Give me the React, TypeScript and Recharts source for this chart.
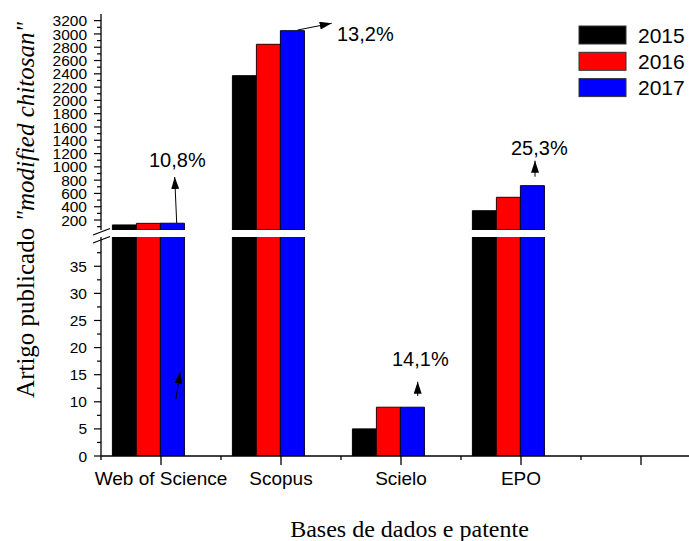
import React from "react";
import { BarChart, Bar, XAxis, YAxis } from "recharts";

const CATEGORIES = ["Web of Science", "Scopus", "Scielo", "EPO", ""];
const Y2015 = [126, 2372, 5, 340, null];
const Y2016 = [150, 2844, 9, 542, null];
const Y2017 = [152, 3049, 9, 717, null];

// upper segment of the broken axis (labels every 200, minor every 100)
const UPPER_DOMAIN = [50, 3300];
const UPPER_TICKS = [
  100, 200, 300, 400, 500, 600, 700, 800, 900, 1000, 1100, 1200, 1300, 1400, 1500, 1600,
  1700, 1800, 1900, 2000, 2100, 2200, 2300, 2400, 2500, 2600, 2700, 2800, 2900, 3000, 3100, 3200,
];
// lower segment (labels every 5, minor every 2.5)
const LOWER_DOMAIN = [0, 40.4];
const LOWER_TICKS = [0, 2.5, 5, 7.5, 10, 12.5, 15, 17.5, 20, 22.5, 25, 27.5, 30, 32.5, 35, 37.5];

const SERIES = [
  { key: "y2015", name: "2015", color: "#000000", edge: "#000000", values: Y2015 },
  { key: "y2016", name: "2016", color: "#ff0000", edge: "#2a0000", values: Y2016 },
  { key: "y2017", name: "2017", color: "#0000ff", edge: "#00002a", values: Y2017 },
];

const ANNOTATIONS = [
  { text: "10,8%", x: 149, y: 167, from: [176.7, 223], to: [174.7, 177] },
  { text: "13,2%", x: 337, y: 41, from: [297.7, 30], to: [331.7, 23.3] },
  { text: "14,1%", x: 392, y: 366, from: [417.7, 396], to: [417.7, 381.7] },
  { text: "25,3%", x: 511, y: 154.5, from: [535, 176.7], to: [535, 160.7] },
  { text: "", x: 0, y: 0, from: [176, 399], to: [180, 371.7] },
];

function rows(minValue: number) {
  return CATEGORIES.map((name, i) => {
    const row: Record<string, any> = { name };
    SERIES.forEach((s) => {
      const v = s.values[i];
      row[s.key] = v != null && v >= minValue ? v : null;
    });
    return row;
  });
}

const lowerData = rows(LOWER_DOMAIN[0]);
const upperData = rows(UPPER_DOMAIN[0]);

const SANS = '"Liberation Sans", Arial, sans-serif';
const SERIF = '"Liberation Serif", "Times New Roman", serif';
const AXIS = { stroke: "#000", strokeWidth: 1.3 };

function halfBand(payload: any) {
  return payload && payload.offset > 0 ? payload.offset : 60;
}

function YTick(props: any) {
  const { x, y, payload, step } = props;
  const v = payload.value;
  const major = v % step === 0;
  return (
    <g>
      <line x1={x - (major ? 7 : 4)} x2={x} y1={y} y2={y} stroke="#000" strokeWidth={1.2} />
      {major && (
        <text x={x - 14} y={y} dy="0.36em" textAnchor="end" fontSize={15.5} fontFamily={SANS} fill="#000">
          {v}
        </text>
      )}
    </g>
  );
}

function TopTick(props: any) {
  const { x, y, payload } = props;
  const h = halfBand(payload);
  return (
    <g>
      <line x1={x} x2={x} y1={y} y2={y + 4} stroke="#000" strokeWidth={1.2} />
      <line x1={x - h} x2={x - h} y1={y} y2={y + 4} stroke="#000" strokeWidth={1.2} />
    </g>
  );
}

function BottomTick(props: any) {
  const { x, y, payload } = props;
  const h = halfBand(payload);
  return (
    <g>
      <line x1={x} x2={x} y1={y} y2={y + 9} stroke="#000" strokeWidth={1.3} />
      <line x1={x - h} x2={x - h} y1={y} y2={y + 4} stroke="#000" strokeWidth={1.3} />
      <text x={x} y={y + 29} textAnchor="middle" fontSize={19} fontFamily={SANS} fill="#000">
        {payload.value}
      </text>
    </g>
  );
}

function bars() {
  return [
    ...SERIES.map((s) => (
      <Bar
        key={s.key}
        dataKey={s.key}
        name={s.name}
        fill={s.color}
        stroke={s.edge}
        strokeWidth={1}
        isAnimationActive={false}
      />
    )),
    // empty slot so the group sits left of the tick, as in the original
    <Bar key="pad" dataKey="pad" fill="none" legendType="none" isAnimationActive={false} />,
  ];
}

export default function App() {
  return (
    <div
      style={{
        position: "fixed",
        left: 0,
        top: 0,
        width: 689,
        height: 541,
        overflow: "hidden",
        background: "#fff",
      }}
    >
      <div style={{ position: "absolute", left: 0, top: 0 }}>
        <BarChart
          width={701}
          height={541}
          data={lowerData}
          margin={{ top: 237, right: 0, bottom: 45, left: 41 }}
          barCategoryGap="9.5%"
          barGap={0}
        >
          <XAxis
            dataKey="name"
            height={40}
            axisLine={AXIS}
            tickLine={false}
            tickSize={0}
            tickMargin={0}
            interval={0}
            tick={<BottomTick />}
          />
          <YAxis
            width={60}
            domain={LOWER_DOMAIN}
            allowDataOverflow
            ticks={LOWER_TICKS}
            interval={0}
            axisLine={AXIS}
            tickLine={false}
            tickSize={0}
            tickMargin={0}
            tick={<YTick step={5} />}
          />
          {bars()}
        </BarChart>
      </div>
      <div style={{ position: "absolute", left: 0, top: 0 }}>
        <BarChart
          width={701}
          height={230}
          data={upperData}
          margin={{ top: 14, right: 0, bottom: 0, left: 41 }}
          barCategoryGap="9.5%"
          barGap={0}
        >
          <XAxis
            dataKey="name"
            orientation="top"
            height={0}
            axisLine={AXIS}
            tickLine={false}
            tickSize={0}
            tickMargin={0}
            interval={0}
            tick={<TopTick />}
          />
          <YAxis
            width={60}
            domain={UPPER_DOMAIN}
            allowDataOverflow
            ticks={UPPER_TICKS}
            interval={0}
            axisLine={AXIS}
            tickLine={false}
            tickSize={0}
            tickMargin={0}
            tick={<YTick step={200} />}
          />
          {bars()}
        </BarChart>
      </div>
      <svg
        width={689}
        height={541}
        style={{ position: "absolute", left: 0, top: 0, pointerEvents: "none" }}
      >
        <defs>
          <marker
            id="ah"
            viewBox="0 0 12 8"
            refX={12}
            refY={4}
            markerWidth={12}
            markerHeight={8}
            markerUnits="userSpaceOnUse"
            orient="auto"
          >
            <path d="M0,0 L12,4 L0,8 z" fill="#000" />
          </marker>
        </defs>
        {/* axis break marks */}
        <line x1={93} y1={235} x2={110} y2={228.5} stroke="#000" strokeWidth={1.3} />
        <line x1={93} y1={243} x2={110} y2={236.5} stroke="#000" strokeWidth={1.3} />

        {ANNOTATIONS.map((a, i) => (
          <g key={i}>
            <line
              x1={a.from[0]}
              y1={a.from[1]}
              x2={a.to[0]}
              y2={a.to[1]}
              stroke="#000"
              strokeWidth={1}
              markerEnd="url(#ah)"
            />
            {a.text && (
              <text x={a.x} y={a.y} fontSize={20} fontFamily={SANS} fill="#000">
                {a.text}
              </text>
            )}
          </g>
        ))}

        {SERIES.map((s, i) => (
          <g key={s.key}>
            <rect x={579} y={26 + i * 26.3} width={47} height={18} fill={s.color} stroke="#333" strokeWidth={1} />
            <text x={638} y={42.7 + i * 26.3} fontSize={21} fontFamily={SANS} fill="#000">
              {s.name}
            </text>
          </g>
        ))}

        <text x={409.5} y={537} textAnchor="middle" fontSize={24} fontFamily={SERIF} fill="#000">
          Bases de dados e patente
        </text>
        <text
          transform="translate(34, 210) rotate(-90)"
          textAnchor="middle"
          fontSize={25}
          fontFamily={SERIF}
          fill="#000"
        >
          Artigo publicado <tspan fontStyle="italic">"modified chitosan"</tspan>
        </text>
      </svg>
    </div>
  );
}
